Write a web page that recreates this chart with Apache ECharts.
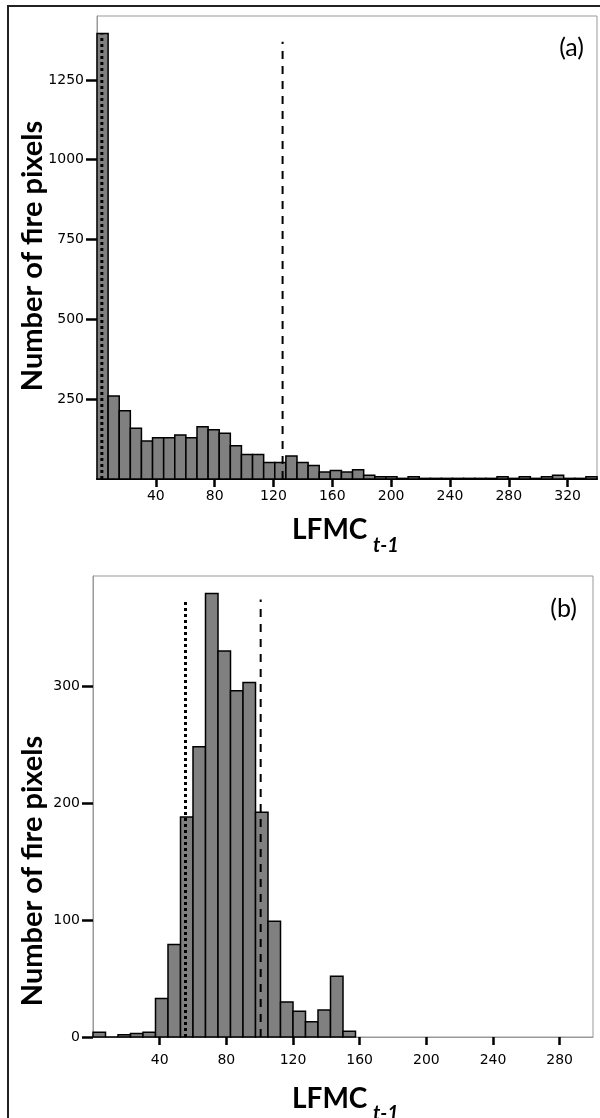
<!DOCTYPE html>
<html><head><meta charset="utf-8">
<script src="https://cdn.jsdelivr.net/npm/echarts@6/dist/echarts.min.js"></script>
<style>html,body{margin:0;padding:0;background:#fff}#c{width:600px;height:1118px}</style>
</head><body><div id="c"></div>
<script>
// Panel (a): histogram of LFMC t-1, 45 bins over 0-340
const binWidthA = 340 / 45;
const countsA = [1395, 260, 214, 159, 119, 129, 129, 138, 129, 164, 154, 143, 104, 77, 77, 52, 52, 72, 52, 42,
                 22, 27, 22, 29, 12, 7, 7, 2, 7, 2, 2, 2, 2, 2, 2, 2, 7, 2, 7, 2, 7, 12, 2, 2, 7];
const xTicksA = [40, 80, 120, 160, 200, 240, 280, 320];
const yTicksA = [250, 500, 750, 1000, 1250];
const refXA = [3.3, 126.2];      // dotted, dashed
const refTopA = [1392, 1369];

// Panel (b): 7.5-wide bins over 0-300
const binWidthB = 7.5;
const countsB = [4, 0, 2, 3, 4, 33, 79, 188, 248, 379, 330, 296, 303, 192, 99, 30, 22, 13, 23, 52, 5];
const xTicksB = [40, 80, 120, 160, 200, 240, 280];
const yTicksB = [0, 100, 200, 300];
const refXB = [55.5, 100.6];
const refTopB = [374, 374];

const tickFont = {fontFamily: 'DejaVu Sans', fontSize: 14, color: '#000', formatter: v => String(v)};

function histItem(params, api) {
  const p0 = api.coord([api.value(0), 0]);
  const p1 = api.coord([api.value(1), api.value(2)]);
  return {
    type: 'rect',
    shape: {x: p0[0], y: p1[1], width: p1[0] - p0[0], height: p0[1] - p1[1]},
    style: {fill: '#808080', stroke: '#000', lineWidth: 1.5}
  };
}
function bins(counts, w) { return counts.map((c, i) => [i * w, (i + 1) * w, c]); }

function xAxisCfg(grid, max, ticks, margin, lineColor, lineWidth) {
  return {
    type: 'value', gridIndex: grid, min: 0, max: max,
    axisLine: {show: true, onZero: false, lineStyle: {color: lineColor, width: lineWidth}},
    axisTick: {show: true, customValues: ticks, length: 8, lineStyle: {color: '#000', width: 2.5}},
    axisLabel: Object.assign({customValues: ticks, margin: margin}, tickFont),
    splitLine: {show: false}
  };
}
function yAxisCfg(grid, max, ticks) {
  return {
    type: 'value', gridIndex: grid, min: 0, max: max,
    axisLine: {show: true, lineStyle: {color: '#999', width: 1}},
    axisTick: {show: true, customValues: ticks, length: 11, lineStyle: {color: '#000', width: 2.5}},
    axisLabel: Object.assign({customValues: ticks, margin: 13}, tickFont),
    splitLine: {show: false}
  };
}
function refLine(grid, x, top, dash, width) {
  return {
    type: 'line', xAxisIndex: grid, yAxisIndex: grid, z: 5,
    data: [[x, 0], [x, top]], showSymbol: false, symbol: 'none', silent: true,
    lineStyle: {color: '#000', width: width, type: dash}
  };
}

const titleFont = 'Lato';
const chart = echarts.init(document.getElementById('c'), null, {renderer: 'canvas'});
chart.setOption({
  animation: false,
  backgroundColor: '#fff',
  grid: [
    {left: 97, top: 16, width: 500, height: 463, show: true, borderColor: '#999', borderWidth: 1, backgroundColor: 'transparent'},
    {left: 93, top: 576, width: 500, height: 461, show: true, borderColor: '#999', borderWidth: 1, backgroundColor: 'transparent'}
  ],
  xAxis: [xAxisCfg(0, 340, xTicksA, 10, '#000', 2), xAxisCfg(1, 300, xTicksB, 16, '#999', 1)],
  yAxis: [yAxisCfg(0, 1450, yTicksA), yAxisCfg(1, 394, yTicksB)],
  series: [
    {type: 'custom', coordinateSystem: 'cartesian2d', xAxisIndex: 0, yAxisIndex: 0,
     renderItem: histItem, encode: {x: [0, 1], y: 2}, data: bins(countsA, binWidthA)},
    {type: 'custom', coordinateSystem: 'cartesian2d', xAxisIndex: 1, yAxisIndex: 1,
     renderItem: histItem, encode: {x: [0, 1], y: 2}, data: bins(countsB, binWidthB)},
    refLine(0, refXA[0], refTopA[0], [3, 3], 3),
    refLine(0, refXA[1], refTopA[1], [8, 7], 2),
    refLine(1, refXB[0], refTopB[0], [3, 3], 3),
    refLine(1, refXB[1], refTopB[1], [8, 7], 2)
  ],
  graphic: [
    {type: 'rect', silent: true, shape: {x: 8, y: 6, width: 640, height: 1200},
     style: {fill: 'none', stroke: '#222', lineWidth: 2}},
    {type: 'text', x: 33, y: 256, rotation: Math.PI / 2,
     style: {text: 'Number of fire pixels', fontFamily: titleFont, fontWeight: 'bold', fontSize: 29, fill: '#000', align: 'center', verticalAlign: 'middle'}},
    {type: 'text', x: 33, y: 871, rotation: Math.PI / 2,
     style: {text: 'Number of fire pixels', fontFamily: titleFont, fontWeight: 'bold', fontSize: 29, fill: '#000', align: 'center', verticalAlign: 'middle'}},
    {type: 'text', x: 292, y: 530,
     style: {text: 'LFMC', fontFamily: titleFont, fontWeight: 'bold', fontSize: 28, fill: '#000', align: 'left', verticalAlign: 'middle'}},
    {type: 'text', x: 373, y: 546,
     style: {text: 't-1', fontFamily: titleFont, fontWeight: 'bold', fontStyle: 'italic', fontSize: 20, fill: '#000', align: 'left', verticalAlign: 'middle'}},
    {type: 'text', x: 292, y: 1099,
     style: {text: 'LFMC', fontFamily: titleFont, fontWeight: 'bold', fontSize: 28, fill: '#000', align: 'left', verticalAlign: 'middle'}},
    {type: 'text', x: 373, y: 1114,
     style: {text: 't-1', fontFamily: titleFont, fontWeight: 'bold', fontStyle: 'italic', fontSize: 20, fill: '#000', align: 'left', verticalAlign: 'middle'}},
    {type: 'text', x: 584, y: 48,
     style: {text: '(a)', fontFamily: titleFont, fontSize: 25, fill: '#000', align: 'right', verticalAlign: 'middle'}},
    {type: 'text', x: 577, y: 609,
     style: {text: '(b)', fontFamily: titleFont, fontSize: 25, fill: '#000', align: 'right', verticalAlign: 'middle'}}
  ]
});
</script></body></html>
